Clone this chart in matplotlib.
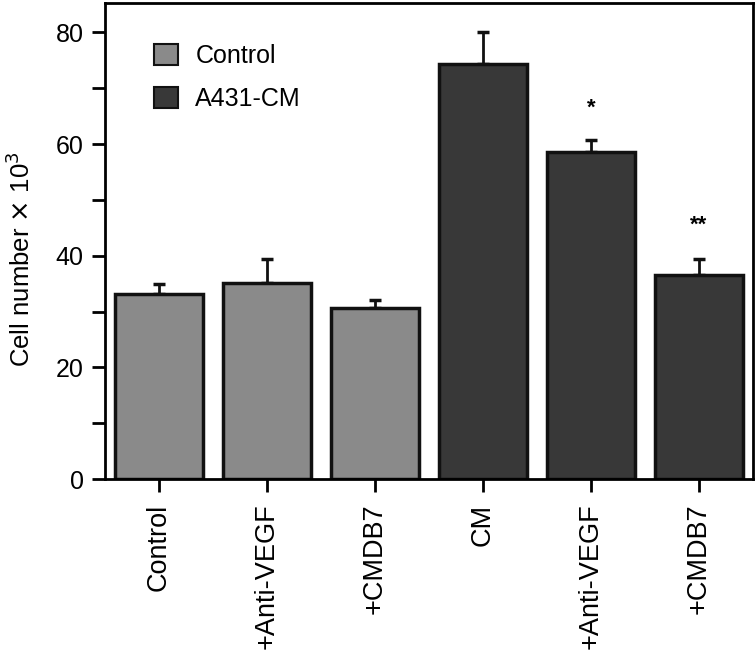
import matplotlib
matplotlib.use("Agg")
import matplotlib.pyplot as plt
from matplotlib.patches import Patch
from matplotlib.ticker import MultipleLocator

categories = ["Control", "+Anti-VEGF", "+CMDB7", "CM", "+Anti-VEGF", "+CMDB7"]
values = [33.2, 35.1, 30.6, 74.4, 58.5, 36.5]
errors = [1.8, 4.4, 1.4, 5.6, 2.2, 3.0]
groups = ["Control", "Control", "Control", "A431-CM", "A431-CM", "A431-CM"]
stars = ["", "", "", "", "*", "**"]
star_y = [None, None, None, None, 66.5, 45.5]

colors = {"Control": "#8a8a8a", "A431-CM": "#383838"}

plt.rcParams['font.family'] = ['Liberation Sans', 'DejaVu Sans']

fig = plt.figure(figsize=(7.56, 6.59), dpi=100)
ax = fig.add_axes([0.139, 0.273, 0.857, 0.722])

x = list(range(len(categories)))
ax.bar(x, values, width=0.815, color=[colors[g] for g in groups],
       edgecolor="#111111", linewidth=2.5, zorder=2)
ax.errorbar(x, values, yerr=[[0]*len(errors), errors], fmt="none",
            ecolor="#111111", elinewidth=2, capsize=4.5, capthick=2.5, zorder=1)

for xi, s, sy in zip(x, stars, star_y):
    if s:
        ax.text(xi, sy, s, ha="center", va="center", fontsize=16, fontweight="bold")

ax.set_xlim(-0.5, 5.5)
ax.set_ylim(0, 85.2)
ax.yaxis.set_major_locator(MultipleLocator(20))
ax.yaxis.set_minor_locator(MultipleLocator(10))
ax.tick_params(axis="y", which="both", direction="out", length=9.5, width=2, labelsize=18, pad=6)
ax.tick_params(axis="x", direction="out", length=9.5, width=2, labelsize=19.5, pad=8)
ax.set_xticks(x)
ax.set_xticklabels(categories, rotation=90)
ax.set_ylabel(r"Cell number $\times$ 10$^3$", fontsize=18.5)
ax.yaxis.set_label_coords(-0.108, 0.462)
for sp in ax.spines.values():
    sp.set_linewidth(2)

handles = [Patch(facecolor=colors["Control"], edgecolor="#111111", linewidth=1.5, label="Control"),
           Patch(facecolor=colors["A431-CM"], edgecolor="#111111", linewidth=1.5, label="A431-CM")]
ax.legend(handles=handles, loc="upper left", bbox_to_anchor=(0.052, 0.945), frameon=False,
          fontsize=18, handlelength=0.96, handleheight=0.9, labelspacing=0.75, handletextpad=0.7,
          borderaxespad=0.2)

fig.savefig("out.png", dpi=100)
